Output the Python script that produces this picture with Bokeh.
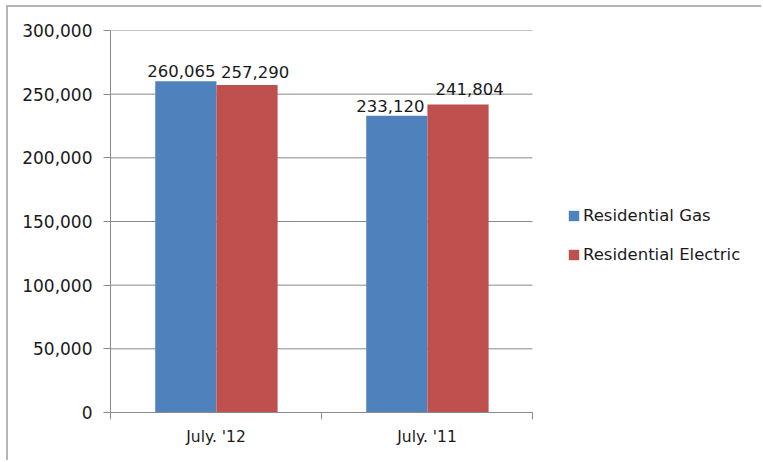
from bokeh.plotting import figure
from bokeh.models import (ColumnDataSource, Range1d, FixedTicker, NumeralTickFormatter,
                          Legend, LegendItem)
from bokeh.embed import file_html
from bokeh.resources import INLINE
from bokeh.core.properties import value

# ---- data ----
categories = ["July. '12", "July. '11"]
series_names = ["Residential Gas", "Residential Electric"]
gas = [260065, 233120]
electric = [257290, 241804]
y_ticks = [0, 50000, 100000, 150000, 200000, 250000, 300000]

# ---- styling ----
colors = ["#4F81BD", "#C0504D"]
bar_w = 0.29
group_center = 0.502
dodge = [-0.145, 0.145]
FONT = "DejaVu Sans"
TXT = "#1a1a1a"
GRID = "#8a8a8a"
# per-label nudges (screen px), order: gas1, elec1, gas2, elec2
label_dx = [-4.5, 8, -6.5, 11.5]
label_dy = [-4, -7, -4, -10]

W, H = 755, 455
LEFT, TOP, BOTTOM = 102, 23, 50
CAT_PX = 422  # pixel width of the category area
frame_w = W - LEFT
n = len(categories)
x_end = n * frame_w / CAT_PX

p = figure(width=W, height=H, output_backend="svg", toolbar_location=None,
           x_range=Range1d(0, x_end), y_range=Range1d(0, y_ticks[-1]),
           min_border_left=LEFT, min_border_right=0, min_border_top=TOP,
           min_border_bottom=BOTTOM)
p.outline_line_color = None
p.background_fill_color = "white"
p.border_fill_color = "white"
p.styles = {"margin-left": "6px", "margin-top": "5px",
            "border-top": "2px solid #b4b4b4", "border-left": "2px solid #b4b4b4"}

# gridlines limited to the category area
grid_y = y_ticks[1:]
p.segment(x0=[0] * len(grid_y), x1=[n] * len(grid_y), y0=grid_y, y1=grid_y,
          line_color=GRID, line_width=1)

renderers = []
for s, (name, vals) in enumerate(zip(series_names, [gas, electric])):
    xs = [i + group_center + dodge[s] for i in range(n)]
    src = ColumnDataSource(dict(x=xs, top=vals))
    r = p.vbar(x="x", top="top", width=bar_w, source=src, fill_color=colors[s],
               line_color=None)
    renderers.append(r)

order_x, order_y, order_t, dxs, dys = [], [], [], [], []
k = 0
for i in range(n):
    for s, vals in enumerate([gas, electric]):
        order_x.append(i + group_center + dodge[s])
        order_y.append(vals[i])
        order_t.append(f"{vals[i]:,}")
        dxs.append(label_dx[k])
        dys.append(label_dy[k])
        k += 1
lab_src = ColumnDataSource(dict(x=order_x, y=order_y, t=order_t, dx=dxs, dy=dys))
p.text(x="x", y="y", text="t", x_offset="dx", y_offset="dy", source=lab_src,
       text_align="center", text_baseline="bottom", text_font=value(FONT),
       text_font_size="16.5px", text_color=TXT)

# y axis
p.yaxis.ticker = FixedTicker(ticks=y_ticks)
p.yaxis.formatter = NumeralTickFormatter(format="0,0")
p.yaxis.major_tick_out = 7
p.yaxis.major_tick_in = 0
p.yaxis.minor_tick_line_color = None
p.yaxis.axis_line_color = GRID
p.yaxis.major_tick_line_color = GRID
p.yaxis.major_label_standoff = 11
p.yaxis.major_label_text_font = FONT
p.yaxis.major_label_text_font_size = "17px"
p.yaxis.major_label_text_color = TXT

# x axis: labels at centers, tick marks at category boundaries
centers = [i + 0.5 for i in range(n)]
p.xaxis.bounds = (0, n)
p.xaxis.ticker = FixedTicker(ticks=centers, minor_ticks=list(range(n + 1)))
p.xaxis.major_label_overrides = {c: lab for c, lab in zip(centers, categories)}
p.xaxis.major_tick_line_color = None
p.xaxis.minor_tick_out = 7
p.xaxis.minor_tick_in = 0
p.xaxis.minor_tick_line_color = GRID
p.xaxis.axis_line_color = GRID
p.xaxis.major_label_standoff = 8
p.xaxis.major_label_text_font = FONT
p.xaxis.major_label_text_font_size = "15.5px"
p.xaxis.major_label_text_color = TXT

p.xgrid.visible = False
p.ygrid.visible = False

legend = Legend(items=[LegendItem(label=nm, renderers=[r]) for nm, r in zip(series_names, renderers)],
                location=(457, 148), padding=0, margin=0, spacing=20,
                glyph_width=13, glyph_height=13, label_height=13, label_standoff=3,
                border_line_color=None, background_fill_alpha=0,
                label_text_font=FONT, label_text_font_size="16.5px", label_text_color=TXT)
p.add_layout(legend)

open("out.html", "w").write(file_html(p, INLINE))
